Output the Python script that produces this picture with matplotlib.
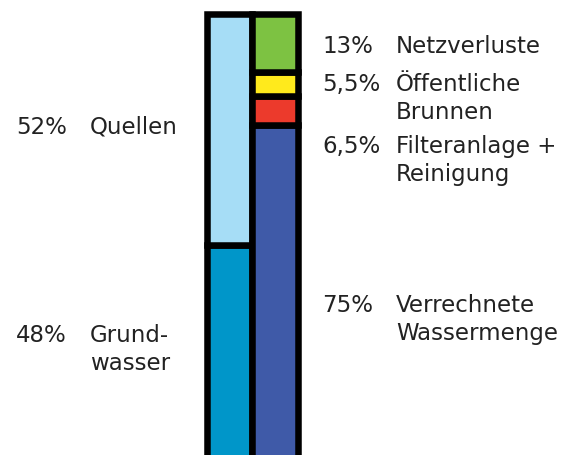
import matplotlib.pyplot as plt
import numpy as np

# Wasserbilanz: Herkunft (links) und Verwendung (rechts), Anteile in %
herkunft = ["Grundwasser", "Quellen"]
herkunft_werte = [48, 52]
herkunft_farben = ["#0096c9", "#a6ddf6"]

verwendung = ["Verrechnete Wassermenge", "Filteranlage + Reinigung",
              "Öffentliche Brunnen", "Netzverluste"]
verwendung_werte = [75, 6.5, 5.5, 13]
verwendung_farben = ["#3f5aa8", "#ec3a2c", "#ffea1c", "#7dc242"]

# Beschriftungen: (Prozent, Zeilen, Grundlinie der ersten Zeile in px von oben)
links_labels = [("52%", ["Quellen"], 134), ("48%", ["Grund-", "wasser"], 342)]
rechts_labels = [("13%", ["Netzverluste"], 53),
                 ("5,5%", ["Öffentliche", "Brunnen"], 91),
                 ("6,5%", ["Filteranlage +", "Reinigung"], 153),
                 ("75%", ["Verrechnete", "Wassermenge"], 312)]

W, H = 573, 456
fig = plt.figure(figsize=(W / 100, H / 100), dpi=100)

# Achse so platzieren, dass 0..100 % von px 460 bis px 15 (von oben) reicht
ax = fig.add_axes([207 / W, (H - 460) / H, 90.5 / W, 445 / H])
ax.set_xlim(0, 2)
ax.set_ylim(0, 100)
ax.axis("off")

lw = 4.7
for i, (werte, farben) in enumerate([(herkunft_werte, herkunft_farben),
                                     (verwendung_werte, verwendung_farben)]):
    unten = np.concatenate([[0], np.cumsum(werte)[:-1]])
    bars = ax.bar(i + 0.5, werte, bottom=unten, width=1, color=farben,
                  edgecolor="black", linewidth=lw, clip_on=False)
    for b in bars:
        b.set_joinstyle("miter")

txt = dict(fontsize=16.5, color="#222222", va="baseline")
zeilenabstand = 28


def beschriften(labels, x_proz, x_name):
    for proz, zeilen, y in labels:
        fig.text(x_proz / W, 1 - y / H, proz, **txt)
        for k, z in enumerate(zeilen):
            fig.text(x_name / W, 1 - (y + k * zeilenabstand) / H, z, **txt)


beschriften(links_labels, 16, 90)
beschriften(rechts_labels, 322, 396)

fig.savefig("out.png", dpi=100)
